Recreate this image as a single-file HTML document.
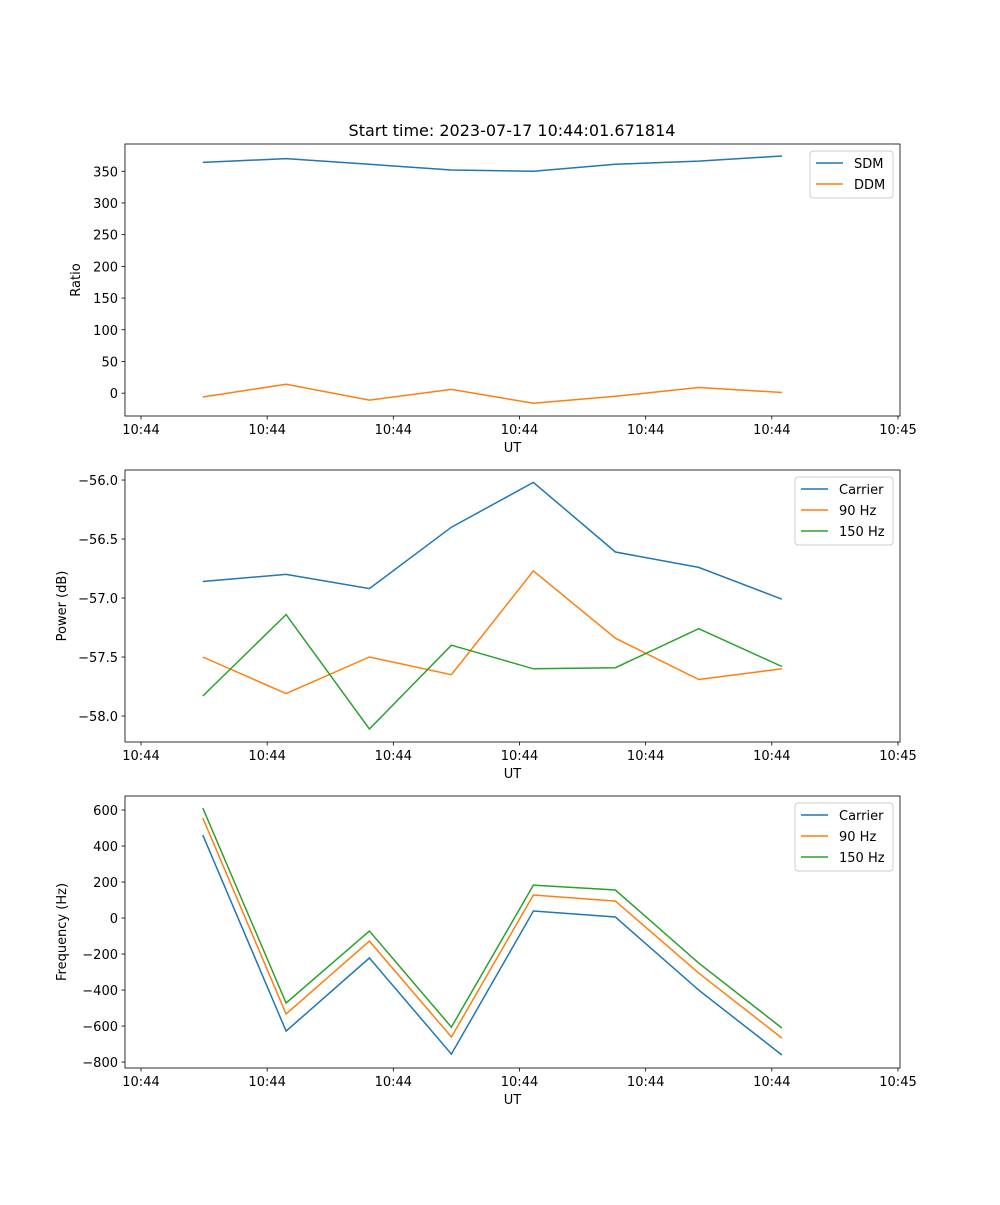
<!DOCTYPE html>
<html><head><meta charset="utf-8"><style>
body{margin:0;background:#fff;font-family:"Liberation Sans",sans-serif}
svg text{font-family:"DejaVu Sans","Liberation Sans",sans-serif;font-size:13px;fill:#000}
</style></head><body>
<svg id="fig" width="1000" height="1200" xmlns="http://www.w3.org/2000/svg"></svg>
<script>
const times=[4.9,11.5,18.1,24.6,31.1,37.6,44.2,50.8];
const xTicks=[0,10,20,30,40,50,60];
const xTickLabels=["10:44","10:44","10:44","10:44","10:44","10:44","10:45"];
const sdm=[364,370,361,352,350,361,366,374];
const ddm=[-6,14,-11,6,-16,-5,9,1];
const ratioTicks=[0,50,100,150,200,250,300,350];
const pwrCarrier=[-56.86,-56.80,-56.92,-56.40,-56.02,-56.61,-56.74,-57.01];
const pwr90=[-57.50,-57.81,-57.50,-57.65,-56.77,-57.34,-57.69,-57.60];
const pwr150=[-57.83,-57.14,-58.11,-57.40,-57.60,-57.59,-57.26,-57.58];
const pwrTicks=[-56.0,-56.5,-57.0,-57.5,-58.0];
const frqCarrier=[461,-628,-222,-756,39,6,-400,-761];
const frq90=[556,-533,-128,-661,128,94,-306,-667];
const frq150=[611,-472,-72,-606,183,156,-250,-611];
const frqTicks=[600,400,200,0,-200,-400,-600,-800];

const NS="http://www.w3.org/2000/svg";
const svg=document.getElementById('fig');
function mk(tag,attrs,parent,name){const e=document.createElementNS(NS,tag);for(const k in attrs)e.setAttribute(k,attrs[k]);


(parent||svg).appendChild(e);return e;}
const L=125,R=900;
const xs=t=>141+(t-0)*(898-141)/60;
function panel(top,bot,ymin,ymax,yticks,fmt,ylabel,series,legend,idx){
  const g=mk('g',{},svg,'panel-'+idx);
  const ys=v=>bot-(v-ymin)/(ymax-ymin)*(bot-top);
  series.forEach(s=>{
    const pts=times.map((t,i)=>xs(t).toFixed(1)+','+ys(s.v[i]).toFixed(1)).join(' ');
    mk('polyline',{points:pts,fill:'none',stroke:s.c,'stroke-width':1.5},g,'line-'+s.n.toLowerCase().replace(' ','-'));
  });
  mk('rect',{x:L,y:top,width:R-L,height:bot-top,fill:'none',stroke:'#000','stroke-width':0.8},g,'axes-frame');
  xTicks.forEach((t,i)=>{const x=xs(t);
    mk('line',{x1:x,x2:x,y1:bot,y2:bot+3.5,stroke:'#000','stroke-width':0.8},g,'x-tick');
    const tx=mk('text',{x:x,y:bot+18,'text-anchor':'middle'},g,'x-tick-label');tx.textContent=xTickLabels[i];});
  yticks.forEach(v=>{const y=ys(v);
    mk('line',{x1:L-3.5,x2:L,y1:y,y2:y,stroke:'#000','stroke-width':0.8},g,'y-tick');
    const tx=mk('text',{x:L-7,y:y+5,'text-anchor':'end'},g,'y-tick-label');tx.textContent=fmt(v);});
  const xl=mk('text',{x:(L+R)/2,y:bot+36,'text-anchor':'middle'},g,'x-axis-title');xl.textContent='UT';
  const cy=(top+bot)/2;
  const yl=mk('text',{x:0,y:0,'text-anchor':'middle',transform:`translate(${idx==0?80:66},${cy}) rotate(-90)`},g,'y-axis-title');yl.textContent=ylabel;
  const lg=mk('g',{},g,'legend');
  mk('rect',{x:legend.x,y:top+7,width:R-7-legend.x,height:series.length*21+5,rx:3,fill:'#fff',stroke:'#ccc','stroke-width':1},lg,'legend-box');
  series.forEach((s,i)=>{const yy=top+19+i*21;
    mk('line',{x1:legend.x+6,x2:legend.x+33,y1:yy,y2:yy,stroke:s.c,'stroke-width':1.5},lg,'legend-swatch');
    const t=mk('text',{x:legend.x+44,y:yy+5},lg,'legend-entry');t.textContent=s.n;});
}
const C=['#1f77b4','#ff7f0e','#2ca02c'];
const title=mk('text',{x:512,y:136,'text-anchor':'middle',style:'font-size:16px'},svg,'chart-title');
title.textContent='Start time: 2023-07-17 10:44:01.671814';
panel(144,416,-36,393,ratioTicks,v=>String(v),'Ratio',[{n:'SDM',v:sdm,c:C[0]},{n:'DDM',v:ddm,c:C[1]}],{x:810},0);
panel(470,742,-58.22,-55.915,pwrTicks,v=>(v<0?'\u2212':'')+Math.abs(v).toFixed(1),'Power (dB)',[{n:'Carrier',v:pwrCarrier,c:C[0]},{n:'90 Hz',v:pwr90,c:C[1]},{n:'150 Hz',v:pwr150,c:C[2]}],{x:795},1);
panel(796,1068,-833,678,frqTicks,v=>(v<0?'\u2212':'')+Math.abs(v),'Frequency (Hz)',[{n:'Carrier',v:frqCarrier,c:C[0]},{n:'90 Hz',v:frq90,c:C[1]},{n:'150 Hz',v:frq150,c:C[2]}],{x:795},2);
</script>
</body></html>
